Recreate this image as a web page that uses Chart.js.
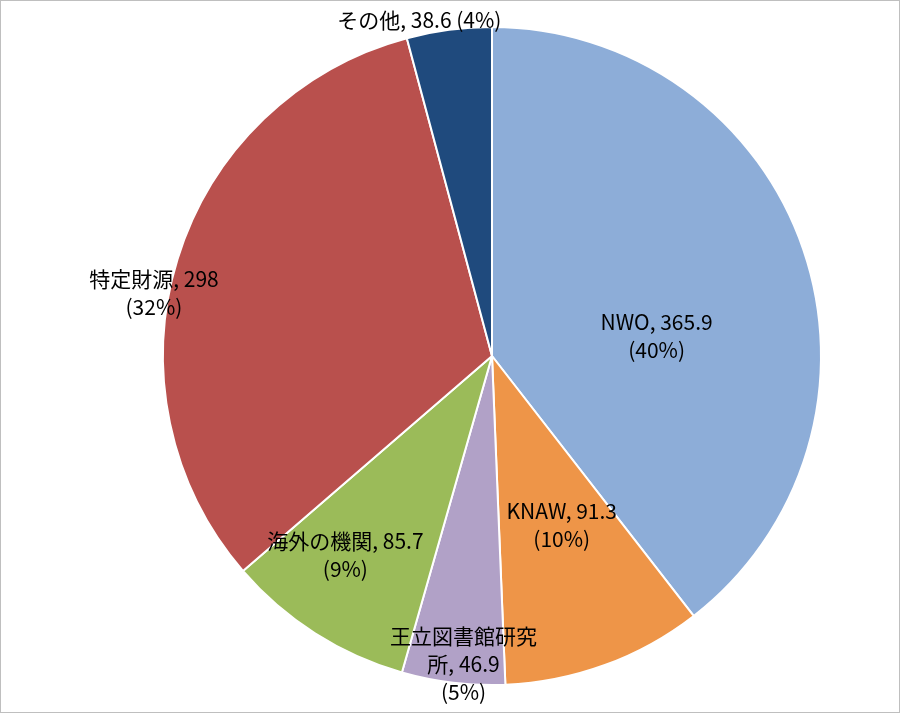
<!DOCTYPE html>
<html><head><meta charset="utf-8">
<script src="https://cdn.jsdelivr.net/npm/chart.js@4"></script>
<style>html,body{margin:0;padding:0;background:#fff}canvas{display:block}</style>
</head><body>
<canvas id="c" width="900" height="713"></canvas>
<script>
const categories = ["NWO", "KNAW", "王立図書館研究所", "海外の機関", "特定財源", "その他"];
const values = [365.9, 91.3, 46.9, 85.7, 298, 38.6];
const percentLabels = ["40%", "10%", "5%", "9%", "32%", "4%"];
const colors = ["#8DADD8", "#EE9548", "#B1A1C7", "#9BBB59", "#B9504D", "#1F4A7D"];
// label text lines per slice
const labelLines = [
  ["NWO, 365.9", "(40%)"],
  ["KNAW, 91.3", "(10%)"],
  ["王立図書館研究", "所, 46.9", "(5%)"],
  ["海外の機関, 85.7", "(9%)"],
  ["特定財源, 298", "(32%)"],
  ["その他, 38.6 (4%)"]
];
// label placement: [radius fraction, angle offset from slice mid (deg)]
const labelPlace = [[0.504, 12], [0.557, -2.3], [0.94, -1.5], [0.752, 3.8], [1.045, -6.6], [1.045, -4.7]];

const labelPlugin = {
  id: 'labels',
  afterDatasetsDraw(chart) {
    const ctx = chart.ctx;
    const meta = chart.getDatasetMeta(0);
    ctx.save();
    ctx.font = '21px "Noto Sans CJK JP", "Noto Sans", sans-serif';
    ctx.fillStyle = '#000';
    ctx.textAlign = 'center';
    ctx.textBaseline = 'middle';
    meta.data.forEach((arc, i) => {
      const p = arc.getProps(['x', 'y', 'startAngle', 'endAngle', 'outerRadius'], true);
      const mid = (p.startAngle + p.endAngle) / 2 + labelPlace[i][1] * Math.PI / 180;
      const r = p.outerRadius * labelPlace[i][0];
      const cx = p.x + Math.cos(mid) * r;
      const cy = p.y + Math.sin(mid) * r;
      const lines = labelLines[i];
      const lh = 28;
      lines.forEach((t, k) => {
        ctx.fillText(t, cx, cy + (k - (lines.length - 1) / 2) * lh);
      });
    });
    ctx.restore();
  }
};
const borderPlugin = {
  id: 'frame',
  afterDraw(chart) {
    const ctx = chart.ctx;
    ctx.save();
    ctx.strokeStyle = '#BFBFBF';
    ctx.lineWidth = 1;
    ctx.strokeRect(0.5, 0.5, chart.width - 1, chart.height - 1);
    ctx.restore();
  }
};

new Chart(document.getElementById('c'), {
  type: 'pie',
  data: {
    labels: categories,
    datasets: [{
      data: values,
      backgroundColor: colors,
      borderColor: '#FFFFFF',
      borderWidth: 2
    }]
  },
  options: {
    responsive: false,
    animation: false,
    devicePixelRatio: 1,
    layout: { padding: { left: 162, right: 78, top: 26, bottom: 27 } },
    plugins: { legend: { display: false }, tooltip: { enabled: false } }
  },
  plugins: [labelPlugin, borderPlugin]
});
</script>
</body></html>
